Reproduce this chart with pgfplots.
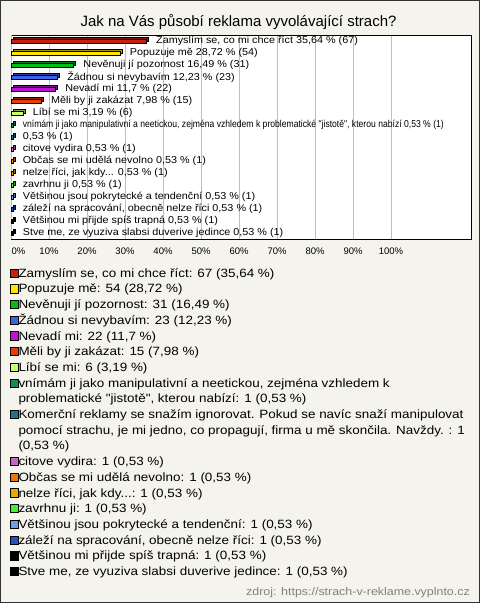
\documentclass[border=0pt]{standalone}
\usepackage{pgfplots}
\pgfplotsset{compat=1.18}
\usepackage{fontspec}
\setmainfont{Liberation Sans}
\newfontfamily\legfont[FakeStretch=1.12]{Liberation Sans}
\newfontfamily\srcfont[FakeStretch=1.13]{Liberation Sans}
\newfontfamily\barfam[FakeStretch=1.08]{Liberation Sans}
\newfontfamily\barfamn[FakeStretch=0.86]{Liberation Sans}
\newcommand{\titlefont}{\fontsize{15}{18}\selectfont}
\newcommand{\barfont}{\barfam\fontsize{10}{11}\selectfont}
\newcommand{\tickfont}{\fontsize{9.5}{11}\selectfont}
\definecolor{bgc}{RGB}{245,244,236}
\definecolor{ca}{RGB}{200,32,16}
\definecolor{cb}{RGB}{255,230,0}
\definecolor{cc}{RGB}{0,190,20}
\definecolor{cd}{RGB}{60,100,230}
\definecolor{ce}{RGB}{190,20,210}
\definecolor{cf}{RGB}{230,60,10}
\definecolor{cg}{RGB}{200,255,110}
\definecolor{ch}{RGB}{20,140,90}
\definecolor{ci}{RGB}{30,120,140}
\definecolor{cj}{RGB}{200,100,200}
\definecolor{ck}{RGB}{230,120,10}
\definecolor{cl}{RGB}{230,170,0}
\definecolor{cm}{RGB}{70,240,50}
\definecolor{cn}{RGB}{110,160,230}
\definecolor{co}{RGB}{40,80,190}
\definecolor{cp}{RGB}{0,0,0}
\definecolor{cq}{RGB}{0,0,0}
\newcommand{\onebar}[4]{%
  \addplot[forget plot, fill=#3!65!black, draw=black, line width=0.6pt, xshift=2pt, yshift=1.5pt] coordinates {(#2,#1)};
  \addplot[fill=#3, draw=black, line width=0.6pt, nodes near coords={#4}] coordinates {(#2,#1)};
}
\newcommand{\contline}[1]{\addlegendimage{opacity=0, draw opacity=0, fill opacity=0}\addlegendentry{#1}}
\begin{document}
\begin{tikzpicture}[x=1pt,y=1pt]
\fill[bgc] (0,0) rectangle (480,603);
\draw[black!80, line width=1pt] (0.5,0.5) rectangle (479.5,602.5);
\node[anchor=base, font=\titlefont, inner sep=0pt] at (238.5,576.3) {Jak na Vás působí reklama vyvolávající strach?};
\begin{axis}[
  at={(11pt,364pt)}, anchor=south west,
  scale only axis, width=460.5pt, height=204pt,
  xmin=0, xmax=121.18, ymin=-0.5, ymax=16.5, y dir=reverse,
  xbar, bar width=4pt, bar shift=0pt,
  ytick=\empty,
  xtick={10,20,30,40,50,60,70,80,90,100},
  xticklabels={10\%,20\%,30\%,40\%,50\%,60\%,70\%,80\%,90\%,100\%},
  extra x ticks={0}, extra x tick labels={0\%},
  extra x tick style={xticklabel style={anchor=north west, xshift=0.5pt}},
  xticklabel style={font=\tickfont, inner sep=0pt, anchor=north, yshift=-9pt},
  major tick length=0pt,
  xmajorgrids, grid style={draw=black!25, line width=0.6pt},
  axis line style={line width=0.8pt},
  axis background/.style={fill=white},
  every node near coord/.append style={anchor=west, xshift=9.5pt, font=\barfont, text=black, inner sep=0pt},
  legend image code/.code={\draw[#1, line width=0.6pt] (0pt,0pt) rectangle (8pt,8.3pt);},
  legend style={at={(-0.0028,-0.1387)}, anchor=north west, draw=none, fill=none,
    inner sep=0pt, inner xsep=0pt, inner ysep=0pt,
    font=\legfont\fontsize{12}{14}\selectfont, row sep=2pt,
    nodes={inner sep=0pt, text height=9.7pt, text depth=4pt, anchor=base west},
    cells={anchor=base west},
    /tikz/every even column/.append style={column sep=3pt}},
]
\onebar{0}{35.64}{ca}{Zamyslím se, co mi chce říct 35,64 \% (67)}
\addlegendentry{Zamyslím se, co mi chce říct: 67 (35,64 \%)}
\onebar{1}{28.72}{cb}{Popuzuje mě 28,72 \% (54)}
\addlegendentry{Popuzuje mě: 54 (28,72 \%)}
\onebar{2}{16.49}{cc}{Nevěnuji jí pozornost 16,49 \% (31)}
\addlegendentry{Nevěnuji jí pozornost: 31 (16,49 \%)}
\onebar{3}{12.23}{cd}{Žádnou si nevybavím 12,23 \% (23)}
\addlegendentry{Žádnou si nevybavím: 23 (12,23 \%)}
\onebar{4}{11.70}{ce}{Nevadí mi 11,7 \% (22)}
\addlegendentry{Nevadí mi: 22 (11,7 \%)}
\onebar{5}{7.98}{cf}{Měli by ji zakázat 7,98 \% (15)}
\addlegendentry{Měli by ji zakázat: 15 (7,98 \%)}
\onebar{6}{3.19}{cg}{Líbí se mi 3,19 \% (6)}
\addlegendentry{Líbí se mi: 6 (3,19 \%)}
\onebar{7}{0.53}{ch}{\barfamn vnímám ji jako manipulativní a neetickou, zejména vzhledem k problematické "jistotě", kterou nabízí 0,53 \% (1)}
\addlegendentry{vnímám ji jako manipulativní a neetickou, zejména vzhledem k}
\contline{problematické "jistotě", kterou nabízí: 1 (0,53 \%)}
\onebar{8}{0.53}{ci}{0,53 \% (1)}
\addlegendentry{Komerční reklamy se snažím ignorovat. Pokud se navíc snaží manipulovat}
\contline{pomocí strachu, je mi jedno, co propagují, firma u mě skončila. Navždy. : 1}
\contline{(0,53 \%)}
\onebar{9}{0.53}{cj}{citove vydira 0,53 \% (1)}
\addlegendentry{citove vydira: 1 (0,53 \%)}
\onebar{10}{0.53}{ck}{Občas se mi udělá nevolno 0,53 \% (1)}
\addlegendentry{Občas se mi udělá nevolno: 1 (0,53 \%)}
\onebar{11}{0.53}{cl}{nelze říci, jak kdy... 0,53 \% (1)}
\addlegendentry{nelze říci, jak kdy...: 1 (0,53 \%)}
\onebar{12}{0.53}{cm}{zavrhnu ji 0,53 \% (1)}
\addlegendentry{zavrhnu ji: 1 (0,53 \%)}
\onebar{13}{0.53}{cn}{Většinou jsou pokrytecké a tendenční 0,53 \% (1)}
\addlegendentry{Většinou jsou pokrytecké a tendenční: 1 (0,53 \%)}
\onebar{14}{0.53}{co}{záleží na spracování, obecně nelze říci 0,53 \% (1)}
\addlegendentry{záleží na spracování, obecně nelze říci: 1 (0,53 \%)}
\onebar{15}{0.53}{cp}{Většinou mi přijde spíš trapná 0,53 \% (1)}
\addlegendentry{Většinou mi přijde spíš trapná: 1 (0,53 \%)}
\onebar{16}{0.53}{cq}{Stve me, ze vyuziva slabsi duverive jedince 0,53 \% (1)}
\addlegendentry{Stve me, ze vyuziva slabsi duverive jedince: 1 (0,53 \%)}
\end{axis}
\node[anchor=base east, font=\srcfont\fontsize{11}{13}\selectfont, text=black!50, inner sep=0pt] at (470,7) {zdroj: https://strach-v-reklame.vyplnto.cz};
\pgfresetboundingbox
\useasboundingbox (0,0) rectangle (480,603);
\end{tikzpicture}
\end{document}
